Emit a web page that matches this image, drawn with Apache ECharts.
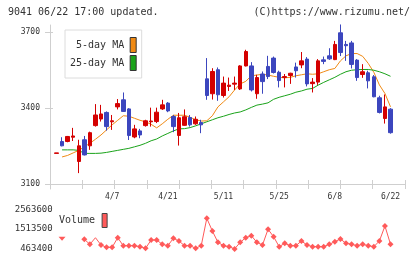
<!DOCTYPE html>
<html>
<head>
<meta charset="utf-8">
<script src="https://cdn.jsdelivr.net/npm/echarts@6/dist/echarts.min.js"></script>
<style>html,body{margin:0;padding:0;background:#fff;}#c{width:420px;height:259px;}</style>
</head>
<body>
<div id="c"></div>
<script>
// ---- data (2022-03-24 .. 2022-06-22) ----
const dates = ['3/24','3/25','3/28','3/29','3/30','3/31','4/1','4/4','4/5','4/6',
 '4/7','4/8','4/11','4/12','4/13','4/14','4/15','4/18','4/19','4/20',
 '4/21','4/22','4/25','4/26','4/27','4/28','5/2','5/6','5/9','5/10',
 '5/11','5/12','5/13','5/16','5/17','5/18','5/19','5/20','5/23','5/24',
 '5/25','5/26','5/27','5/30','5/31','6/1','6/2','6/3','6/6','6/7',
 '6/8','6/9','6/10','6/13','6/14','6/15','6/16','6/17','6/20','6/21','6/22'];
const openP  = [3221,3268,3268,3285,3189,3275,3251,3331,3357,3383,
 3346,3405,3433,3397,3286,3310,3331,3346,3347,3397,
 3420,3367,3292,3332,3363,3338,3343,3516,3457,3552,
 3450,3486,3495,3476,3567,3567,3457,3535,3565,3598,
 3542,3521,3529,3563,3571,3594,3497,3503,3591,3607,
 3592,3698,3652,3658,3590,3533,3540,3524,3441,3359,3396];
const closeP = [3223,3251,3288,3290,3251,3215,3303,3373,3377,3327,
 3350,3418,3387,3292,3318,3294,3350,3349,3384,3413,
 3389,3327,3362,3366,3334,3356,3334,3450,3545,3453,
 3499,3491,3499,3567,3624,3472,3521,3505,3525,3541,
 3509,3525,3538,3548,3587,3496,3503,3587,3585,3595,
 3652,3620,3647,3573,3521,3544,3508,3445,3383,3405,3303];
const lowP   = [3221,3249,3265,3270,3143,3213,3235,3327,3347,3311,
 3314,3395,3385,3274,3281,3281,3327,3327,3341,3393,
 3384,3305,3252,3330,3327,3334,3301,3433,3434,3429,
 3442,3468,3472,3472,3565,3466,3437,3457,3515,3537,
 3482,3482,3496,3521,3558,3486,3462,3492,3574,3591,
 3590,3606,3587,3557,3508,3520,3478,3443,3379,3339,3299];
const highP  = [3223,3285,3290,3322,3275,3290,3307,3416,3413,3387,
 3373,3436,3462,3400,3334,3318,3354,3402,3402,3433,
 3424,3373,3381,3395,3373,3367,3354,3598,3558,3561,
 3525,3521,3525,3570,3631,3582,3532,3545,3607,3604,
 3548,3535,3540,3580,3622,3602,3519,3594,3604,3637,
 3666,3731,3666,3666,3594,3574,3548,3531,3449,3454,3400];
const ma5  = [null,3207,3213,3223,3233,3247,3261,3277,3294,3314,
 3334,3352,3370,3368,3360,3352,3346,3336,3322,3338,
 3356,3372,3372,3372,3364,3354,3349,3350,3370,3405,
 3425,3445,3472,3496,3506,3528,3531,3534,3531,3526,
 3522,3520,3522,3528,3532,3536,3534,3536,3544,3552,
 3557,3587,3607,3616,3616,3605,3577,3542,3492,3458,3405];
const ma25 = [null,3235,3235,3235,3233,3221,3221,3221,3222,3225,
 3229,3233,3237,3241,3247,3253,3261,3271,3278,3290,
 3300,3310,3318,3319,3323,3330,3338,3346,3354,3362,
 3368,3375,3381,3385,3393,3403,3412,3416,3421,3435,
 3443,3449,3455,3463,3468,3475,3478,3491,3502,3512,
 3522,3534,3544,3550,3552,3553,3553,3550,3544,3536,3526];
const volume = [null,1000000,null,null,null,976000,712000,1061000,675000,553000,
 553000,1061000,638000,638000,638000,585000,500000,940000,940000,712000,
 638000,1029000,887000,638000,638000,500000,638000,2087000,1416000,818000,
 638000,585000,470000,818000,1061000,1167000,818000,675000,1505000,1114000,
 585000,765000,638000,638000,887000,675000,585000,585000,585000,712000,
 850000,992000,765000,712000,638000,712000,638000,585000,887000,1680000,712000];
const priceTicks = [3100,3400,3700];
const volTicks = [463400,1513500,2563600];

// ---- layout / style ----
const FONT = 'DejaVu Sans Mono';
const GRAY = '#cfcfcf';
const TXT = '#333';
const RED = '#d40000', BLUE = '#3c46be';
const PMIN = 3080.2, PMAX = 3728.9;
const triIdx = [1], noMarkIdx = [7];
const plain = v => String(Math.round(v));

const candleData = dates.map((d, i) => [openP[i], closeP[i], lowP[i], highP[i]]);
const volData = volume.map((v, i) => {
  if (v == null) return null;
  if (triIdx.includes(i)) return {value: v, symbol: 'triangle', symbolRotate: 180, symbolSize: [7, 4]};
  if (noMarkIdx.includes(i)) return {value: v, symbol: 'none'};
  return v;
});

const chart = echarts.init(document.getElementById('c'), null, {renderer: 'canvas'});
chart.setOption({
  animation: false,
  backgroundColor: '#fff',
  title: [
    {text: '9041 06/22 17:00 updated.', left: 8, top: 7, padding: 0,
     textStyle: {fontSize: 10, fontFamily: FONT, fontWeight: 'normal', color: TXT}},
    {text: '(C)https://www.rizumu.net/', right: 10, top: 7, padding: 0,
     textStyle: {fontSize: 10, fontFamily: FONT, fontWeight: 'normal', color: TXT}}
  ],
  legend: [
    {data: ['5-day MA', '25-day MA'], orient: 'vertical', left: 65, top: 30,
     padding: [7, 5, 7, 5], itemGap: 2, itemWidth: 6, itemHeight: 15, align: 'right',
     icon: 'rect', borderColor: '#dcdcdc', borderWidth: 1,
     itemStyle: {borderColor: '#333', borderWidth: 1},
     formatter: n => n === '5-day MA' ? ' ' + n : n,
     textStyle: {fontSize: 10, fontFamily: FONT, color: TXT, padding: [0, 1, 0, 0]}},
    {data: ['Volume'], left: 59, top: 213, padding: 0, itemWidth: 5, itemHeight: 14,
     align: 'right', icon: 'rect', itemStyle: {borderColor: '#444', borderWidth: 1},
     textStyle: {fontSize: 10, fontFamily: FONT, color: TXT, padding: [0, 2, 0, 0]}}
  ],
  grid: [
    {left: 50, right: 15, top: 25, bottom: 70},
    {left: 53.7, width: 339.6, top: 25, bottom: 70},
    {left: 53.7, width: 339.6, top: 209.3, bottom: 10}
  ],
  xAxis: [
    {gridIndex: 0, type: 'value', min: 0, max: 11, interval: 1, position: 'bottom', offset: -5,
     axisLine: {show: true, lineStyle: {color: GRAY}}, axisTick: {show: true, length: 5, lineStyle: {color: GRAY}},
     axisLabel: {show: false}, splitLine: {show: false}},
    {gridIndex: 0, type: 'value', min: 0, max: 11, interval: 1, position: 'bottom', offset: -5,
     axisLine: {show: false}, axisTick: {show: true, inside: true, length: 4, lineStyle: {color: GRAY}},
     axisLabel: {show: false}, splitLine: {show: false}},
    {gridIndex: 1, type: 'category', data: dates, boundaryGap: true,
     axisLine: {show: false}, axisTick: {show: false}, splitLine: {show: false},
     axisLabel: {interval: (i) => i > 0 && i % 10 === 0, margin: 4, fontSize: 8, fontFamily: FONT, color: TXT, hideOverlap: false}},
    {gridIndex: 2, type: 'category', data: dates, boundaryGap: true, show: false}
  ],
  yAxis: [
    {gridIndex: 0, type: 'value', min: PMIN, max: PMAX, position: 'left',
     axisLine: {show: true, lineStyle: {color: GRAY}},
     axisTick: {show: true, length: 5, customValues: priceTicks, lineStyle: {color: GRAY}},
     axisLabel: {customValues: priceTicks, formatter: plain, margin: 10, fontSize: 8, fontFamily: FONT, color: TXT},
     splitLine: {show: false}},
    {gridIndex: 0, type: 'value', min: PMIN, max: PMAX, position: 'left',
     axisLine: {show: false},
     axisTick: {show: true, inside: true, length: 3, customValues: priceTicks, lineStyle: {color: GRAY}},
     axisLabel: {show: false}, splitLine: {show: false}},
    {gridIndex: 1, type: 'value', min: PMIN, max: PMAX, show: false},
    {gridIndex: 2, type: 'value', min: 463400, max: 2563600,
     axisLine: {show: false}, axisTick: {show: false}, splitLine: {show: false},
     axisLabel: {customValues: volTicks, formatter: plain, margin: 1, fontSize: 9, fontFamily: FONT, color: TXT}}
  ],
  series: [
    {name: '5-day MA', type: 'line', xAxisIndex: 2, yAxisIndex: 2, data: ma5, color: '#f08a14',
     symbol: 'none', lineStyle: {width: 1, color: '#f08a14'}, z: 2},
    {name: '25-day MA', type: 'line', xAxisIndex: 2, yAxisIndex: 2, data: ma25, color: '#1aa31a',
     symbol: 'none', lineStyle: {width: 1, color: '#1aa31a'}, z: 2},
    {name: 'Price', type: 'candlestick', xAxisIndex: 2, yAxisIndex: 2, data: candleData, barWidth: 4, clip: false, z: 3,
     itemStyle: {color: RED, color0: BLUE, borderColor: RED, borderColor0: BLUE, borderWidth: 1}},
    {name: 'Volume', type: 'line', xAxisIndex: 3, yAxisIndex: 3, data: volData, color: '#ff5a5a',
     symbol: 'diamond', symbolSize: 6, showAllSymbol: true, connectNulls: false, clip: false,
     lineStyle: {width: 1, color: '#ff5a5a'}, itemStyle: {color: '#ff5a5a'}}
  ]
});
</script>
</body>
</html>
